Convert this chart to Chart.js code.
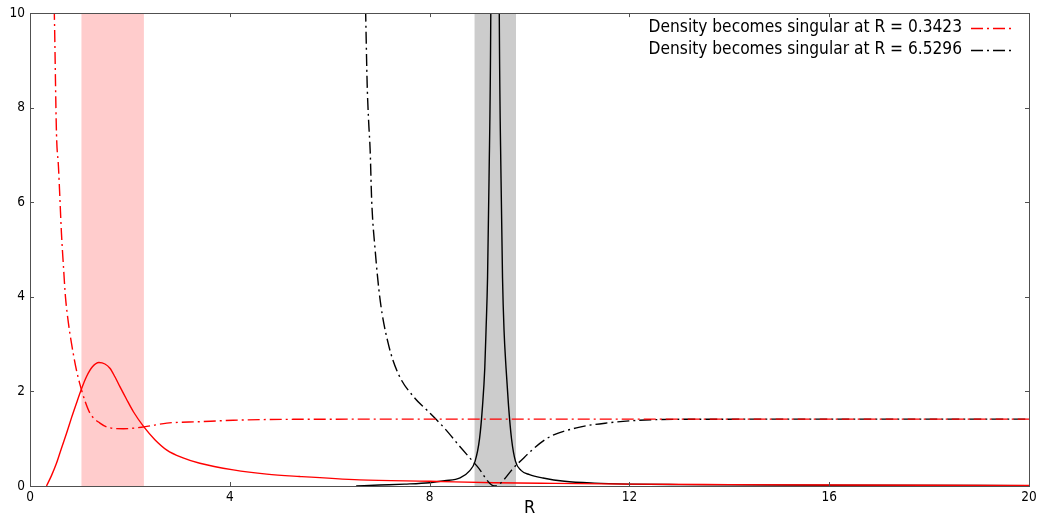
<!DOCTYPE html>
<html>
<head>
<meta charset="utf-8">
<script src="https://cdn.jsdelivr.net/npm/chart.js@4/dist/chart.umd.min.js"></script>
<style>
  html, body { margin: 0; padding: 0; background: #ffffff; }
  #wrap { width: 1043px; height: 523px; }
</style>
</head>
<body>
<div id="wrap"><canvas id="c" width="1043" height="523"></canvas></div>
<script>
// Axis ticks
const xTicks = [0, 4, 8, 12, 16, 20];
const yTicks = [0, 2, 4, 6, 8, 10];

// Density profile for the first solution (red, solid)
const redDensityR = [0.33, 0.43, 0.53, 0.63, 0.73, 0.83, 0.93, 1.03, 1.13, 1.25, 1.38, 1.50, 1.60, 1.70, 1.80, 1.93, 2.07, 2.28, 2.50, 2.74, 3.05, 3.40, 4.07, 4.74, 5.40, 6.60, 8.00, 9.30, 10.5, 12.0, 14.0, 16.0, 18.0, 20.0];
const redDensityY = [0.00, 0.22, 0.48, 0.80, 1.11, 1.44, 1.75, 2.05, 2.31, 2.52, 2.61, 2.58, 2.49, 2.31, 2.10, 1.84, 1.57, 1.25, 0.98, 0.76, 0.60, 0.48, 0.34, 0.25, 0.20, 0.13, 0.10, 0.07, 0.055, 0.04, 0.03, 0.022, 0.016, 0.012];

// Companion quantity for the first solution (red, dash-dot)
const redSingularR = [0.45, 0.487, 0.53, 0.57, 0.60, 0.63, 0.67, 0.71, 0.77, 0.83, 0.93, 1.00, 1.10, 1.20, 1.40, 1.60, 1.87, 2.28, 2.74, 3.40, 4.07, 5.27, 8.00, 12.0, 16.0, 20.0];
const redSingularY = [11.5, 10.0, 7.46, 6.75, 6.05, 5.34, 4.64, 4.00, 3.44, 3.02, 2.45, 2.15, 1.80, 1.54, 1.33, 1.23, 1.21, 1.25, 1.33, 1.36, 1.39, 1.41, 1.414, 1.414, 1.414, 1.414];

// Density profile for the second solution (black, solid)
const blackDensityR = [6.53, 7.00, 7.50, 8.00, 8.30, 8.61, 8.80, 8.91, 9.00, 9.06, 9.105, 9.13, 9.16, 9.19, 9.225, 9.26, 9.31, 9.36, 9.395, 9.43, 9.46, 9.49, 9.53, 9.58, 9.64, 9.72, 9.83, 10.0, 10.27, 10.7, 11.3, 12.0, 13.0, 16.0, 20.0];
const blackDensityY = [0.00, 0.02, 0.04, 0.07, 0.11, 0.17, 0.32, 0.52, 1.00, 1.70, 2.50, 3.30, 4.40, 6.50, 10.0, 20.0, 40.0, 20.0, 10.0, 6.50, 4.40, 3.30, 2.50, 1.70, 1.00, 0.52, 0.33, 0.24, 0.17, 0.10, 0.06, 0.04, 0.03, 0.015, 0.008];

// Companion quantity for the second solution (black, dash-dot)
const blackSingularR = [6.70, 6.72, 6.75, 6.78, 6.81, 6.84, 6.91, 7.01, 7.17, 7.37, 7.71, 7.94, 8.30, 8.61, 8.95, 9.30, 9.74, 10.34, 10.94, 11.61, 12.20, 13.0, 16.0, 20.0];
const blackSingularY = [11.0, 10.0, 8.50, 7.70, 7.10, 6.05, 4.99, 3.93, 3.02, 2.38, 1.85, 1.61, 1.22, 0.83, 0.42, 0.00, 0.45, 1.00, 1.23, 1.34, 1.39, 1.41, 1.414, 1.414];

// Shaded R intervals (first: red solution, second: black solution)
const shadeFrom = [1.03, 8.90];
const shadeTo = [2.28, 9.73];

// Legend text
const legendLabels = ['Density becomes singular at R = 0.3423', 'Density becomes singular at R = 6.5296'];

const FONT = '"DejaVu Sans Condensed", "DejaVu Sans", sans-serif';
const RED = '#ff0000';
const BLACK = '#000000';
const DASH_DOT = [12, 4, 2, 4];
const shadeColors = ['#ffcccc', '#cccccc'];

const toPoints = (xs, ys) => xs.map((x, i) => ({ x: x, y: ys[i] }));

const lineStyle = (color, dash) => ({
  borderColor: color,
  backgroundColor: color,
  borderWidth: 1.4,
  borderDash: dash,
  pointRadius: 0,
  pointHoverRadius: 0,
  fill: false,
  cubicInterpolationMode: 'monotone'
});

const datasets = [
  Object.assign({ label: legendLabels[0], data: toPoints(redSingularR, redSingularY), showInLegend: true }, lineStyle(RED, DASH_DOT)),
  Object.assign({ label: legendLabels[1], data: toPoints(blackSingularR, blackSingularY), showInLegend: true }, lineStyle(BLACK, DASH_DOT)),
  Object.assign({ label: 'density 1', data: toPoints(redDensityR, redDensityY) }, lineStyle(RED, [])),
  Object.assign({ label: 'density 2', data: toPoints(blackDensityR, blackDensityY) }, lineStyle(BLACK, []))
];

// Vertical shaded bands behind the curves
const bandsPlugin = {
  id: 'bands',
  beforeDatasetsDraw(chart) {
    const { ctx, chartArea, scales } = chart;
    ctx.save();
    shadeFrom.forEach((lo, i) => {
      const x0 = scales.x.getPixelForValue(lo);
      const x1 = scales.x.getPixelForValue(shadeTo[i]);
      ctx.fillStyle = shadeColors[i];
      ctx.fillRect(x0, chartArea.top, x1 - x0, chartArea.bottom - chartArea.top);
    });
    ctx.restore();
  }
};

// Border box with inward tick marks on all four sides
const framePlugin = {
  id: 'frame',
  afterDatasetsDraw(chart) {
    const { ctx, chartArea: a, scales } = chart;
    const len = 4;
    ctx.save();
    ctx.strokeStyle = '#505050';
    ctx.lineWidth = 1;
    ctx.beginPath();
    xTicks.forEach(v => {
      const px = Math.round(scales.x.getPixelForValue(v)) + 0.5;
      ctx.moveTo(px, a.bottom); ctx.lineTo(px, a.bottom - len);
      ctx.moveTo(px, a.top); ctx.lineTo(px, a.top + len);
    });
    yTicks.forEach(v => {
      const py = Math.round(scales.y.getPixelForValue(v)) + 0.5;
      ctx.moveTo(a.left, py); ctx.lineTo(a.left + len, py);
      ctx.moveTo(a.right, py); ctx.lineTo(a.right - len, py);
    });
    ctx.stroke();
    ctx.strokeRect(Math.round(a.left) + 0.5, Math.round(a.top) + 0.5,
      Math.round(a.right - a.left), Math.round(a.bottom - a.top));
    ctx.restore();
  }
};

// Key in the top-right corner: label first, line sample after it
const keyPlugin = {
  id: 'key',
  afterDraw(chart) {
    const { ctx } = chart;
    const textRight = 962;
    const sampleL = 971, sampleR = 1011;
    let y = 28;
    ctx.save();
    ctx.font = '17.2px ' + FONT;
    ctx.textAlign = 'right';
    ctx.textBaseline = 'middle';
    chart.data.datasets.forEach(ds => {
      if (!ds.showInLegend) return;
      ctx.fillStyle = '#000000';
      ctx.fillText(ds.label, textRight, y);
      ctx.strokeStyle = ds.borderColor;
      ctx.lineWidth = ds.borderWidth;
      ctx.setLineDash(ds.borderDash || []);
      ctx.beginPath();
      ctx.moveTo(sampleL, y + 0.5);
      ctx.lineTo(sampleR, y + 0.5);
      ctx.stroke();
      ctx.setLineDash([]);
      y += 22;
    });
    ctx.restore();
  }
};

new Chart(document.getElementById('c'), {
  type: 'line',
  data: { datasets: datasets },
  plugins: [bandsPlugin, framePlugin, keyPlugin],
  options: {
    responsive: false,
    animation: false,
    events: [],
    layout: { padding: { top: 13, right: 14, left: 0, bottom: 0 } },
    plugins: { legend: { display: false }, tooltip: { enabled: false } },
    scales: {
      x: {
        type: 'linear',
        min: 0, max: 20,
        afterBuildTicks: s => { s.ticks = xTicks.map(v => ({ value: v })); },
        afterFit: s => { s.height = 37; },
        grid: { display: false, drawTicks: false },
        border: { display: false },
        ticks: { color: '#000000', padding: 3, font: { family: FONT, size: 13.5 }, maxRotation: 0 },
        title: { display: true, text: 'R', color: '#000000', font: { family: FONT, size: 18 }, padding: { top: 0, bottom: 4 } }
      },
      y: {
        type: 'linear',
        min: 0, max: 10,
        afterBuildTicks: s => { s.ticks = yTicks.map(v => ({ value: v })); },
        afterFit: s => { s.width = 30; },
        grid: { display: false, drawTicks: false },
        border: { display: false },
        ticks: { color: '#000000', padding: 5, font: { family: FONT, size: 13.5 } }
      }
    }
  }
});
</script>
</body>
</html>
